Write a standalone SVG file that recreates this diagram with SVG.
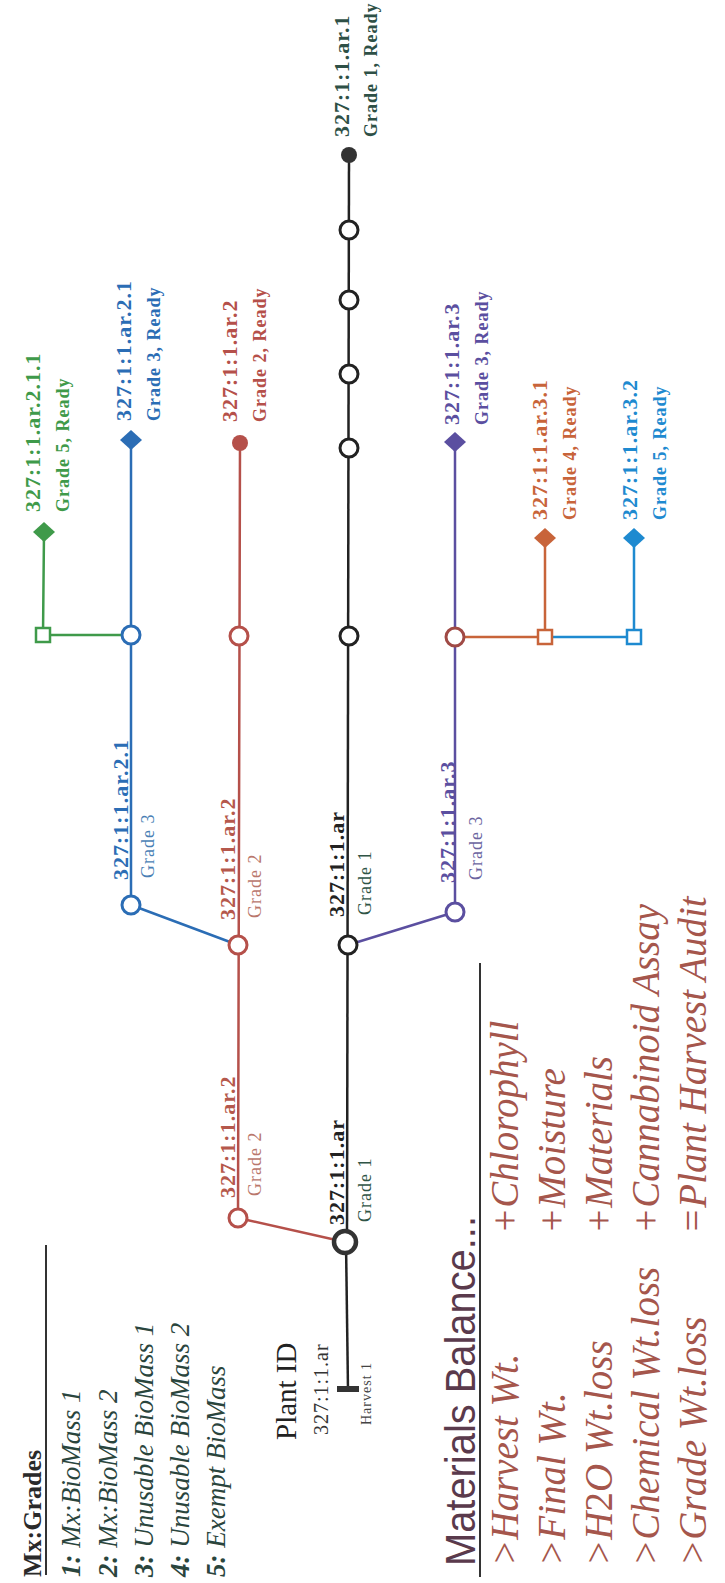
<svg xmlns="http://www.w3.org/2000/svg" width="725" height="1583" viewBox="0 0 725 1583">
<style>
.id{font-family:"Liberation Serif",serif;font-size:22px;font-weight:bold;letter-spacing:1px}
.gr{font-family:"Liberation Serif",serif;font-size:18px;font-weight:bold;letter-spacing:1px}
.gm{font-family:"Liberation Serif",serif;font-size:18px;letter-spacing:1px}
.oc{fill:#fff;stroke-width:3}
.sq{fill:#fff;stroke-width:2.5}
.ln{fill:none;stroke-width:2.5;stroke-linejoin:round}
.it{font-family:"Liberation Serif",serif;font-style:italic;font-size:27px;fill:#2a453d}
.mb{font-family:"Liberation Serif",serif;font-style:italic;font-size:39px;fill:#a5564c}
.k{stroke:#222}.r{stroke:#b5504a}.b{stroke:#2b6db5}.g{stroke:#3f9a4a}.p{stroke:#5b4fa0}.o{stroke:#c8643a}.c{stroke:#1e8ad0}
</style>
<rect width="725" height="1583" fill="#fff"/>

<g id="connectors">
<line class="ln k" x1="348" y1="1390" x2="346" y2="1242" stroke-width="4.5"/>
<line class="ln k" x1="347" y1="1242" x2="349" y2="155"/>
<polyline class="ln r" points="345,1242 238,1218 240,443"/>
<polyline class="ln b" points="238,945 131,905 131,440"/>
<polyline class="ln g" points="131,635 43,635 44,532"/>
<polyline class="ln p" points="348,945 455,912 455,442"/>
<polyline class="ln o" points="455,637 545,637 545,538"/>
<polyline class="ln c" points="545,637 634,637 634,538"/>
</g>

<g id="legend-grades">
<text transform="translate(41 1577) rotate(-90)" font-family="Liberation Serif,serif" font-size="26" font-weight="bold" fill="#2a2a2a">Mx:Grades</text>
<line x1="46" y1="1245" x2="46" y2="1575" stroke="#333" stroke-width="2"/>
<text class="it" transform="translate(80 1577) rotate(-90)"><tspan font-weight="bold">1:</tspan> Mx:BioMass 1</text>
<text class="it" transform="translate(117 1577) rotate(-90)"><tspan font-weight="bold">2:</tspan> Mx:BioMass 2</text>
<text class="it" transform="translate(153 1577) rotate(-90)"><tspan font-weight="bold">3:</tspan> Unusable BioMass 1</text>
<text class="it" transform="translate(189 1577) rotate(-90)"><tspan font-weight="bold">4:</tspan> Unusable BioMass 2</text>
<text class="it" transform="translate(225 1577) rotate(-90)"><tspan font-weight="bold">5:</tspan> Exempt BioMass</text>
</g>

<g id="plant-id">
<text transform="translate(296 1440) rotate(-90)" font-family="Liberation Serif,serif" font-size="29" fill="#222">Plant ID</text>
<text transform="translate(328 1435) rotate(-90)" font-family="Liberation Serif,serif" font-size="20" letter-spacing="1" fill="#333">327:1:1.ar</text>
<text transform="translate(371 1425) rotate(-90)" font-family="Liberation Serif,serif" font-size="14" letter-spacing="1" fill="#444">Harvest 1</text>
<rect x="337" y="1386" width="22" height="6" fill="#333"/>
</g>

<g id="node-b0">
<circle cx="345" cy="1242" r="11" fill="#fff" stroke="#333" stroke-width="4.5"/>
<text class="id" transform="translate(344 1225) rotate(-90)" fill="#222">327:1:1.ar</text>
<text class="gm" transform="translate(371 1222) rotate(-90)" fill="#2f5446">Grade 1</text>
</g>

<g id="node-r0">
<circle class="oc r" cx="238" cy="1218" r="9"/>
<text class="id" transform="translate(235 1198) rotate(-90)" fill="#b5584c">327:1:1.ar.2</text>
<text class="gm" transform="translate(261 1196) rotate(-90)" fill="#b9776c">Grade 2</text>
</g>

<g id="node-b1">
<circle class="oc k" cx="348" cy="945" r="9"/>
<text class="id" transform="translate(344 917) rotate(-90)" fill="#222">327:1:1.ar</text>
<text class="gm" transform="translate(371 915) rotate(-90)" fill="#2f5446">Grade 1</text>
</g>

<g id="node-r1">
<circle class="oc r" cx="238" cy="945" r="9"/>
<text class="id" transform="translate(235 920) rotate(-90)" fill="#b5584c">327:1:1.ar.2</text>
<text class="gm" transform="translate(261 918) rotate(-90)" fill="#b9776c">Grade 2</text>
</g>

<g id="node-bl1">
<circle class="oc b" cx="131" cy="905" r="9"/>
<text class="id" transform="translate(128 880) rotate(-90)" fill="#2b6db5">327:1:1.ar.2.1</text>
<text class="gm" transform="translate(154 878) rotate(-90)" fill="#4a7fb5">Grade 3</text>
</g>

<g id="node-p1">
<circle class="oc p" cx="455" cy="912" r="9"/>
<text class="id" transform="translate(455 883) rotate(-90)" fill="#5b4fa0">327:1:1.ar.3</text>
<text class="gm" transform="translate(482 880) rotate(-90)" fill="#6a64a0">Grade 3</text>
</g>

<g id="node-bl2"><circle class="oc b" cx="131" cy="635" r="9"/></g>
<g id="node-r2"><circle class="oc r" cx="239" cy="636" r="9"/></g>
<g id="node-b2"><circle class="oc k" cx="349" cy="636" r="9"/></g>
<g id="node-p2"><circle class="oc" stroke="#a04a45" cx="455" cy="637" r="9"/></g>
<g id="node-g1"><rect class="sq g" x="36" y="628" width="14" height="14"/></g>
<g id="node-o1"><rect class="sq o" x="538" y="630" width="14" height="14"/></g>
<g id="node-c1"><rect class="sq c" x="627" y="630" width="14" height="14"/></g>

<g id="node-b3"><circle class="oc k" cx="349" cy="448" r="9"/></g>
<g id="node-b4"><circle class="oc k" cx="349" cy="374" r="9"/></g>
<g id="node-b5"><circle class="oc k" cx="349" cy="300" r="9"/></g>
<g id="node-b6"><circle class="oc k" cx="349" cy="230" r="9"/></g>

<g id="end-black">
<circle cx="349" cy="155" r="8" fill="#333"/>
<text class="id" transform="translate(349 137) rotate(-90)" fill="#2e5046">327:1:1.ar.1</text>
<text class="gr" transform="translate(377 137) rotate(-90)" fill="#2e5046">Grade 1, Ready</text>
</g>

<g id="end-green">
<polygon points="44,522 55,532 44,542 33,532" fill="#3f9a4a"/>
<text class="id" transform="translate(40 512) rotate(-90)" fill="#3f9a4a">327:1:1.ar.2.1.1</text>
<text class="gr" transform="translate(69 512) rotate(-90)" fill="#3f9a4a">Grade 5, Ready</text>
</g>

<g id="end-blue">
<polygon points="131,430 142,440 131,450 120,440" fill="#2b6db5"/>
<text class="id" transform="translate(131 421) rotate(-90)" fill="#2b6db5">327:1:1.ar.2.1</text>
<text class="gr" transform="translate(160 421) rotate(-90)" fill="#2b6db5">Grade 3, Ready</text>
</g>

<g id="end-red">
<circle cx="240" cy="443" r="8" fill="#b5504a"/>
<text class="id" transform="translate(237 422) rotate(-90)" fill="#b5504a">327:1:1.ar.2</text>
<text class="gr" transform="translate(266 422) rotate(-90)" fill="#b5504a">Grade 2, Ready</text>
</g>

<g id="end-purple">
<polygon points="455,432 466,442 455,452 444,442" fill="#5b4fa0"/>
<text class="id" transform="translate(459 425) rotate(-90)" fill="#5b4fa0">327:1:1.ar.3</text>
<text class="gr" transform="translate(488 425) rotate(-90)" fill="#5b4fa0">Grade 3, Ready</text>
</g>

<g id="end-orange">
<polygon points="545,528 556,538 545,548 534,538" fill="#c8643a"/>
<text class="id" transform="translate(547 520) rotate(-90)" fill="#c8643a">327:1:1.ar.3.1</text>
<text class="gr" transform="translate(576 520) rotate(-90)" fill="#c8643a">Grade 4, Ready</text>
</g>

<g id="end-cyan">
<polygon points="634,528 645,538 634,548 623,538" fill="#1e8ad0"/>
<text class="id" transform="translate(637 520) rotate(-90)" fill="#1e8ad0">327:1:1.ar.3.2</text>
<text class="gr" transform="translate(666 520) rotate(-90)" fill="#1e8ad0">Grade 5, Ready</text>
</g>

<g id="materials-balance">
<text transform="translate(475 1566) rotate(-90)" font-family="Liberation Sans,sans-serif" font-size="42" textLength="350" lengthAdjust="spacingAndGlyphs" fill="#5a3a4c">Materials Balance...</text>
<line x1="480" y1="963" x2="480" y2="1577" stroke="#333" stroke-width="2"/>
<text class="mb" transform="translate(518 1566) rotate(-90)">&gt;Harvest Wt.</text>
<text class="mb" transform="translate(565 1566) rotate(-90)">&gt;Final Wt.</text>
<text class="mb" transform="translate(612 1566) rotate(-90)">&gt;H<tspan font-style="normal">2</tspan>O Wt.loss</text>
<text class="mb" transform="translate(659 1566) rotate(-90)">&gt;Chemical Wt.loss</text>
<text class="mb" transform="translate(706 1566) rotate(-90)">&gt;Grade Wt.loss</text>
<text class="mb" transform="translate(518 1234) rotate(-90)">+Chlorophyll</text>
<text class="mb" transform="translate(565 1234) rotate(-90)">+Moisture</text>
<text class="mb" transform="translate(612 1234) rotate(-90)">+Materials</text>
<text class="mb" transform="translate(659 1234) rotate(-90)">+Cannabinoid Assay</text>
<text class="mb" transform="translate(706 1234) rotate(-90)">=Plant Harvest Audit</text>
</g>
</svg>
